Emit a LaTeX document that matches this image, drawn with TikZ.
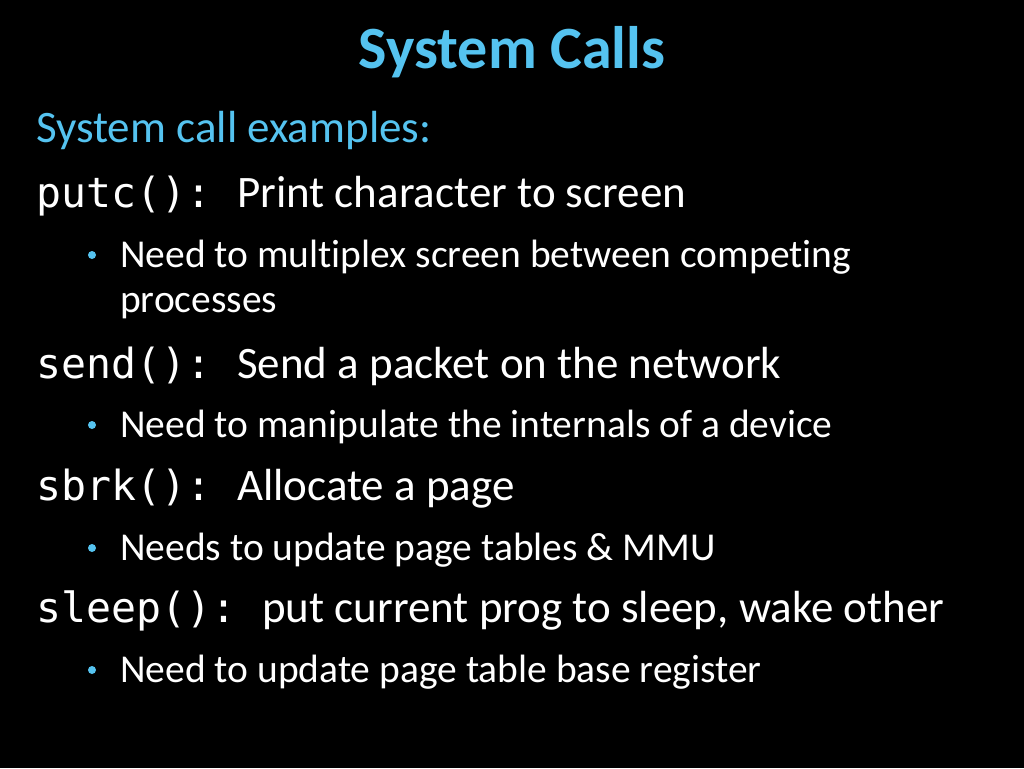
\documentclass[tikz,border=0pt]{standalone}
\usepackage{fontspec}
\setmainfont[Ligatures=NoCommon]{Carlito}
\setmonofont{DejaVu Sans Mono}
\definecolor{tblue}{RGB}{85,195,240}
\begin{document}
\begin{tikzpicture}[x=1pt,y=-1pt,
  every node/.style={inner sep=0,anchor=base west,text=white},
  code/.style={font=\fontsize{41.5}{44}\ttfamily},
  desc/.style={font=\fontsize{45}{48}\selectfont},
  sub/.style={font=\fontsize{39.5}{42}\selectfont},
  dot/.style={fill=tblue,circle,inner sep=0,minimum size=8pt,anchor=center}]
\fill[black] (0,0) rectangle (1024,768);
\useasboundingbox (0,0) rectangle (1024,768);
\node[anchor=base,text=tblue,font=\fontsize{60}{64}\bfseries] (title) at (512,68) {System Calls};
\node[text=tblue,desc] (ex) at (36,142) {System call examples:};
\node[code] (c1) at (36,207) {putc():};
\node[desc] (d1) at (237,207) {Print character to screen};
\node[dot] (b1) at (92,255) {};
\node[sub] (s1) at (120,267) {Need to multiplex screen between competing};
\node[sub] (s1b) at (120,312) {processes};
\node[code] (c2) at (36,378) {send():};
\node[desc] (d2) at (237,378) {Send a packet on the network};
\node[dot] (b2) at (92,425) {};
\node[sub] (s2) at (120,437) {Need to manipulate the internals of a device};
\node[code] (c3) at (36,500) {sbrk():};
\node[desc] (d3) at (237,500) {Allocate a page};
\node[dot] (b3) at (92,548) {};
\node[sub] (s3) at (120,560) {Needs to update page tables \& MMU};
\node[code] (c4) at (36,622) {sleep():};
\node[desc] (d4) at (262,622) {put current prog to sleep, wake other};
\node[dot] (b4) at (92,670) {};
\node[sub] (s4) at (120,682) {Need to update page table base register};
\end{tikzpicture}
\end{document}
